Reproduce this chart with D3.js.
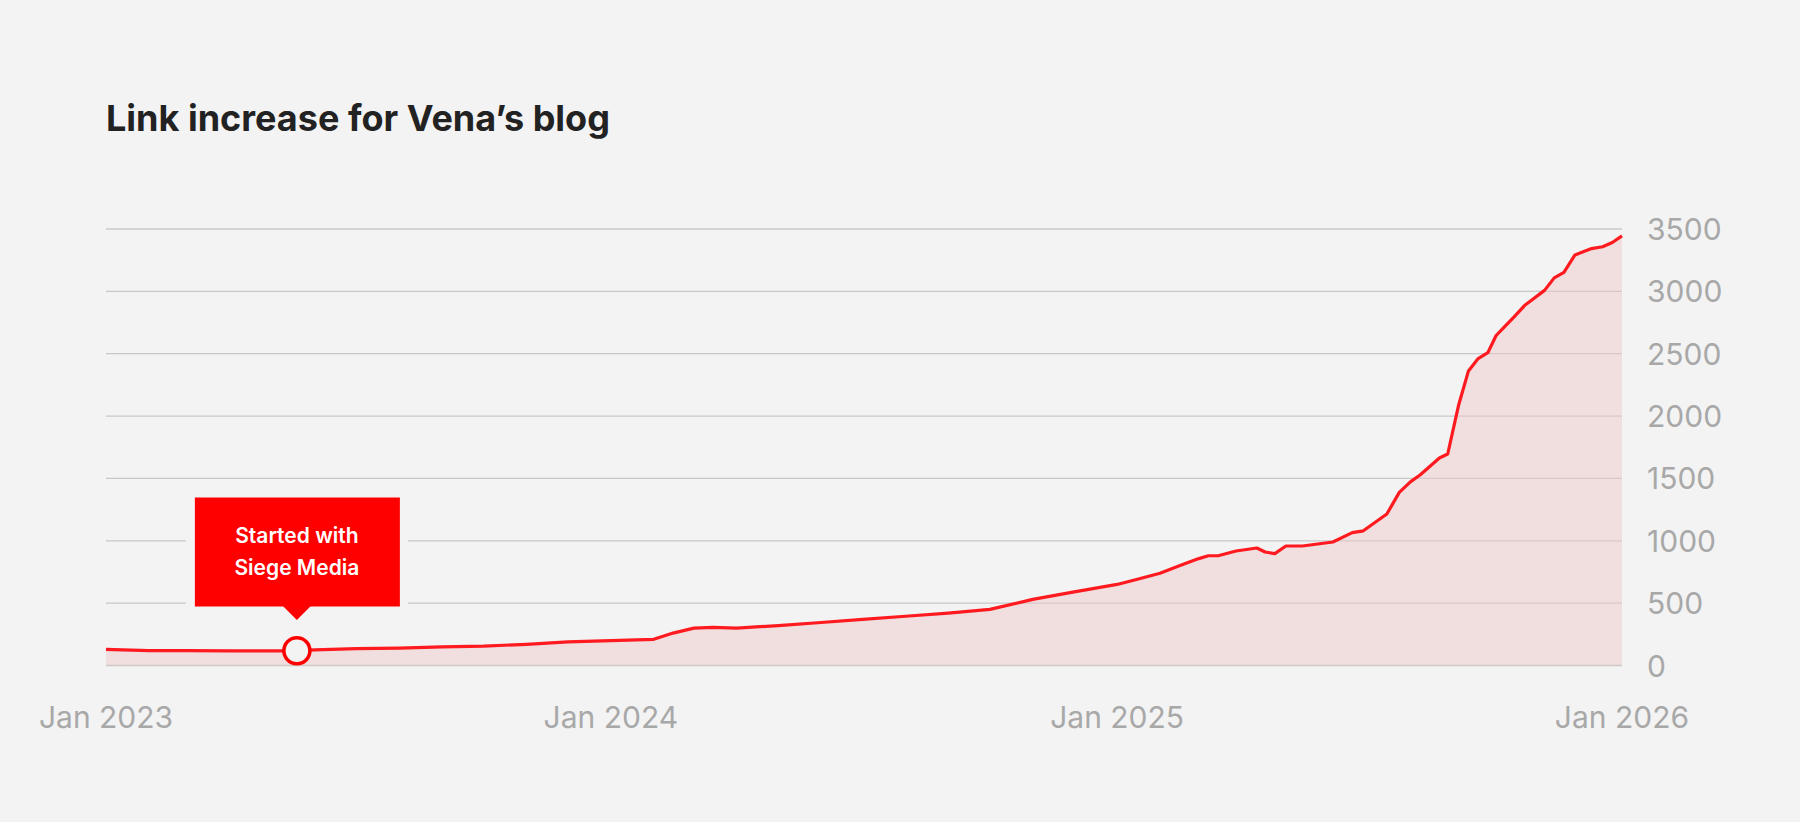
<!DOCTYPE html>
<html>
<head>
<meta charset="utf-8">
<script src="https://cdn.jsdelivr.net/npm/d3@7"></script>
<style>
  body { margin:0; background:#f3f3f3; }
  text { font-family: Inter, "Noto Sans", sans-serif; }
</style>
</head>
<body>
<svg id="chart" width="1800" height="822"></svg>
<script>
// data
var dates = ["2023-01-01","2023-02-01","2023-03-01","2023-04-01","2023-05-01","2023-05-19","2023-06-01","2023-07-01",
  "2023-08-01","2023-09-01","2023-10-01","2023-11-01","2023-12-01","2024-01-01","2024-02-01","2024-02-15",
  "2024-03-01","2024-03-15","2024-04-01","2024-05-01","2024-06-01","2024-07-01","2024-08-01","2024-09-01",
  "2024-10-01","2024-11-01","2024-12-01","2025-01-01","2025-01-15","2025-02-01","2025-02-15","2025-03-01",
  "2025-03-08","2025-03-15","2025-03-28","2025-04-12","2025-04-18","2025-04-25","2025-05-03","2025-05-15",
  "2025-06-06","2025-06-20","2025-06-28","2025-07-15","2025-07-24","2025-08-01","2025-08-08","2025-08-22",
  "2025-08-28","2025-09-05","2025-09-12","2025-09-19","2025-09-26","2025-10-02","2025-10-08","2025-10-15",
  "2025-10-23","2025-11-06","2025-11-13","2025-11-20","2025-11-28","2025-12-10","2025-12-18","2025-12-25","2026-01-01"];
var links = [130,120,120,118,118,118,125,135,140,150,155,170,190,200,210,260,300,305,300,320,345,370,395,420,
  450,530,590,650,690,740,800,857,880,880,918,942,910,897,958,958,990,1065,1080,1215,1388,1472,1528,1664,
  1696,2093,2362,2461,2508,2646,2716,2795,2891,3008,3108,3152,3292,3343,3358,3392,3445];
var yTicks = [0,500,1000,1500,2000,2500,3000,3500];
var xTicks = ["2023-01-01","2024-01-01","2025-01-01","2026-01-01"];
var title = "Link increase for Vena’s blog";
var noteDate = "2023-05-19";
var noteLines = ["Started with","Siege Media"];

var parse = d3.timeParse("%Y-%m-%d");
var data = dates.map(function(d,i){ return {date: parse(d), v: links[i]}; });

var svg = d3.select("#chart");
var x = d3.scaleTime().domain([parse("2023-01-01"), parse("2026-01-01")]).range([106, 1622]);
var y = d3.scaleLinear().domain([0,3500]).range([665.5, 229]);

svg.append("text").attr("x",106).attr("y",131).attr("font-size",36).attr("font-weight",700)
  .attr("fill","#222").text(title);

// grid
svg.selectAll(".grid").data(yTicks).enter().append("line")
  .attr("x1",106).attr("x2",1622)
  .attr("y1",function(d){return y(d);}).attr("y2",function(d){return y(d);})
  .attr("stroke","#c8c8c8").attr("stroke-width",1.3);

svg.selectAll(".ylab").data(yTicks).enter().append("text")
  .attr("x",1647).attr("y",function(d){return y(d)+11;})
  .attr("font-size",30).attr("fill","#a8a8a8").text(function(d){return d;});

svg.selectAll(".xlab").data(xTicks).enter().append("text")
  .attr("x",function(d){return x(parse(d));}).attr("y",728)
  .attr("text-anchor","middle").attr("font-size",30).attr("fill","#a8a8a8")
  .text(function(d){return d3.timeFormat("%b %Y")(parse(d));});

// area + line
var area = d3.area().x(function(d){return x(d.date);}).y0(y(0)).y1(function(d){return y(d.v);});
svg.append("path").datum(data).attr("d",area).attr("fill","#f0c8ca").attr("fill-opacity",0.45);
var line = d3.line().x(function(d){return x(d.date);}).y(function(d){return y(d.v);});
svg.append("path").datum(data).attr("d",line).attr("fill","none")
  .attr("stroke","#ff1a1f").attr("stroke-width",3.2).attr("stroke-linejoin","round");

// annotation
var nd = data.filter(function(d){return +d.date === +parse(noteDate);})[0];
var nx = x(nd.date), ny = y(nd.v);
svg.append("rect").attr("x",nx-111).attr("y",489).attr("width",222).attr("height",126).attr("fill","#f3f3f3");
svg.append("rect").attr("x",nx-102).attr("y",497.5).attr("width",205).attr("height",109).attr("fill","#ff0000");
svg.append("path").attr("d","M"+(nx-14)+",606 L"+nx+",620 L"+(nx+14)+",606 Z").attr("fill","#ff0000");
svg.selectAll(".note").data(noteLines).enter().append("text")
  .attr("x",nx).attr("y",function(d,i){return 543+i*32;})
  .attr("text-anchor","middle").attr("font-size",21).attr("font-weight",600)
  .attr("fill","#fff").text(function(d){return d;});
svg.append("circle").attr("cx",nx).attr("cy",ny).attr("r",13)
  .attr("fill","#f3f3f3").attr("stroke","#ff0000").attr("stroke-width",3.5);
</script>
</body>
</html>
